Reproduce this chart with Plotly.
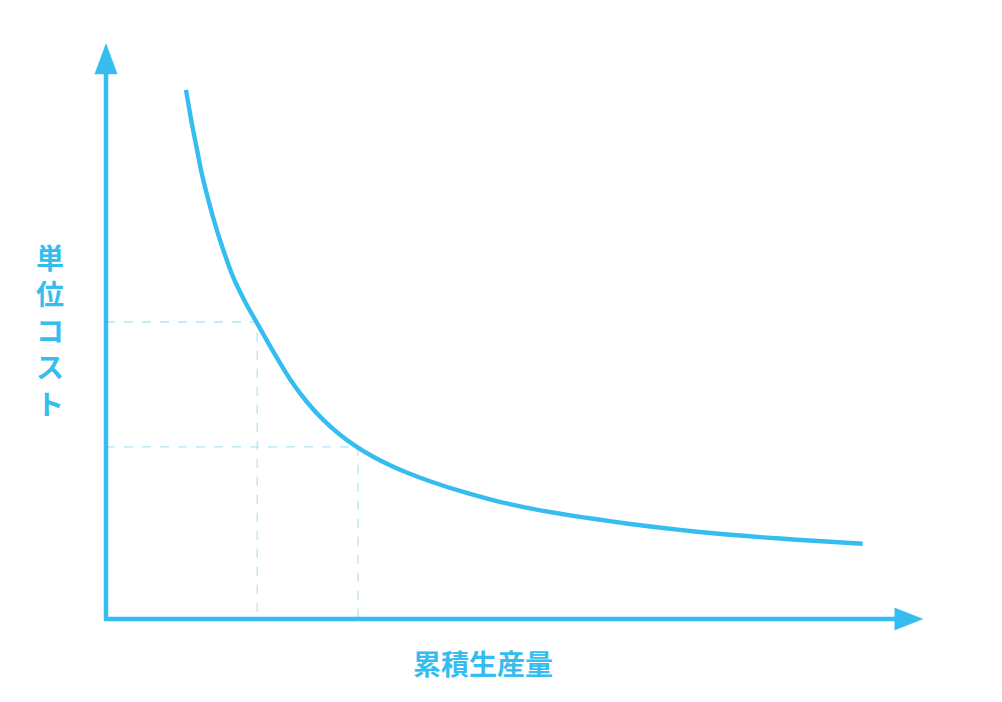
import plotly.graph_objects as go

# 学習曲線 (累積生産量 vs 単位コスト) - 読み取り値
production = [10.0, 10.71, 11.34, 11.96, 12.79, 13.63, 14.66, 15.91, 17.38, 18.84,
              20.91, 23.0, 25.09, 27.16, 29.25, 31.34, 33.41, 35.5, 37.59, 40.5,
              44.66, 48.84, 53.0, 57.16, 61.34, 65.5, 69.66, 73.84, 78.0, 82.16,
              86.34, 90.5, 94.59]
unit_cost = [96.2, 90.2, 85.6, 81.1, 76.2, 71.8, 67.1, 62.1, 57.7, 53.9,
             48.6, 43.6, 39.5, 36.2, 33.5, 31.3, 29.5, 27.95, 26.63, 25.05,
             23.1, 21.45, 20.13, 19.04, 18.13, 17.27, 16.55, 15.87, 15.33, 14.85,
             14.42, 14.05, 13.69]

# 補助線の位置
guide_x = [18.9, 31.5]
guide_y = [54.0, 31.3]

x_label = "累積生産量"
y_label = "単位コスト"

BLUE = "#35BDEF"
LIGHT = "#B5E4F8"
FONT = "Noto Sans CJK JP"

fig = go.Figure()

# 補助線（破線）
for gx, gy in zip(guide_x, guide_y):
    fig.add_trace(go.Scatter(
        x=[0, gx, gx], y=[gy, gy, 0],
        mode="lines",
        line=dict(color=LIGHT, width=1.3, dash="dash"),
        hoverinfo="skip", showlegend=False
    ))

# 曲線
fig.add_trace(go.Scatter(
    x=production, y=unit_cost,
    mode="lines",
    line=dict(color=BLUE, width=4.4, shape="spline", smoothing=0.6),
    showlegend=False
))

# 軸と矢印
fig.add_shape(type="path", path="M 0,99.3 L 0,0 L 98.8,0",
              line=dict(color=BLUE, width=4.5))
fig.add_shape(type="path", path="M -1.4,99.1 L 0,104.6 L 1.4,99.1 Z",
              fillcolor=BLUE, line=dict(color=BLUE, width=0.5))
fig.add_shape(type="path", path="M 98.6,-2.0 L 102.1,0 L 98.6,2.0 Z",
              fillcolor=BLUE, line=dict(color=BLUE, width=0.5))

# 軸ラベル
fig.add_annotation(x=47.1, y=-8.0, text="<b>" + x_label + "</b>",
                   showarrow=False, font=dict(family=FONT, size=28, color=BLUE))
fig.add_annotation(x=-7.0, y=52.5, text="<b>" + "<br>".join(y_label) + "</b>",
                   showarrow=False, font=dict(family=FONT, size=28, color=BLUE))

# ページ余白(8px)を見込んだ範囲
fig.update_layout(
    width=1002, height=702,
    margin=dict(l=0, r=0, t=0, b=0),
    plot_bgcolor="white", paper_bgcolor="white",
    xaxis=dict(range=[-12.25, 113.0], visible=False),
    yaxis=dict(range=[-16.545, 111.09], visible=False),
)

fig.write_html("out.html")
